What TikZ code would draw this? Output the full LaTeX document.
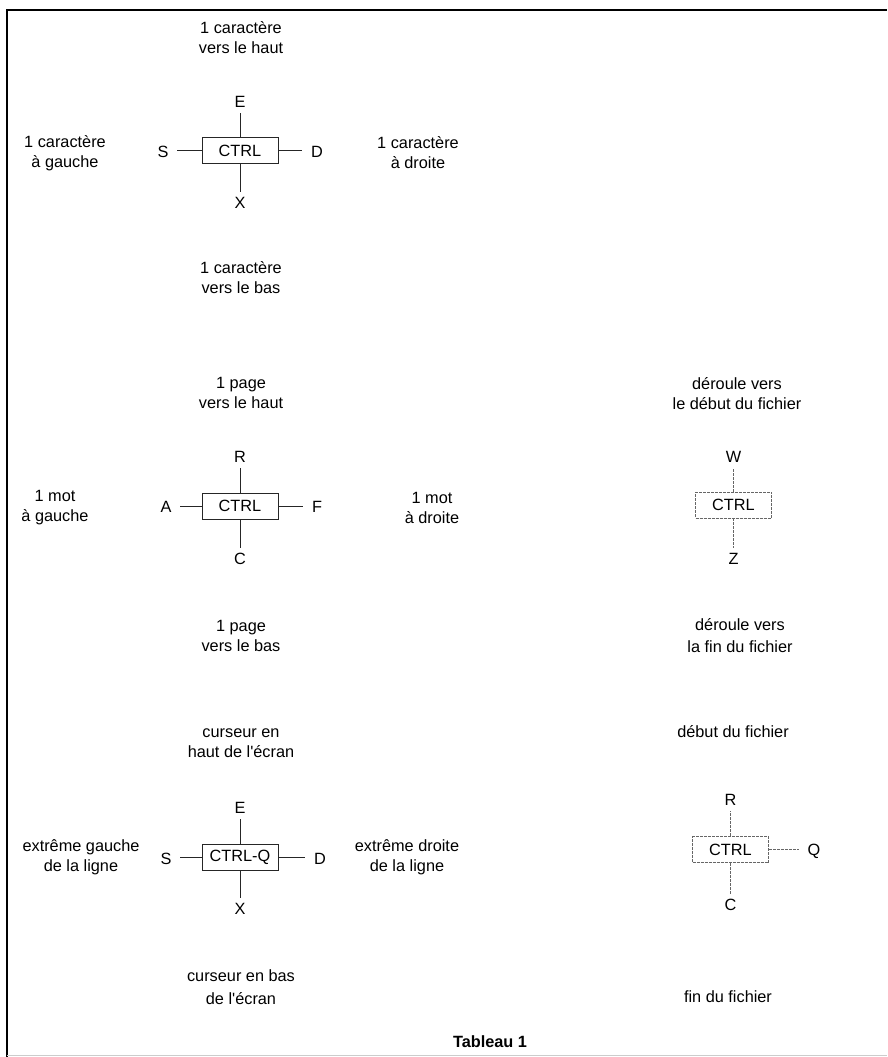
\documentclass[tikz,border=0pt]{standalone}
\usepackage{fontspec}
\setmainfont{Liberation Sans}
\begin{document}
\begin{tikzpicture}[x=1pt,y=-1pt,
  txt/.style={font=\fontsize{16.3}{20}\selectfont, align=center, inner sep=0pt},
  key/.style={font=\fontsize{16.3}{20}\selectfont, inner xsep=8.5pt, inner ysep=5.5pt},
  ctrlbox/.style={draw=black!85, line width=0.6pt, minimum width=76pt, minimum height=26pt, inner sep=0pt, font=\fontsize{16.3}{20}\selectfont},
  ctrlboxlight/.style={ctrlbox, draw=black!60, dash pattern=on 3pt off 1pt},
  link/.style={draw=black!85, line width=0.6pt},
  linklight/.style={draw=black!60, line width=0.6pt, dash pattern=on 3pt off 1pt}]
\fill[white] (0,0) rectangle (887,1057);
\useasboundingbox (0,0) rectangle (887,1057);
\draw[line width=2.4pt] (7,1057) -- (7,10) -- (887,10);
\draw[black!20, line width=1pt] (7,1055) -- (887,1055);

% ---- block 1
\node[ctrlbox] (b1) at (240,150.5) {CTRL};
\node[key] (E1) at (240,102) {E};
\node[key] (X1) at (240,203) {X};
\node[key] (S1) at (163,152) {S};
\node[key] (D1) at (317,152) {D};
\draw[link] (b1.north) -- (E1.south);
\draw[link] (b1.south) -- (X1.north);
\draw[link] (b1.west) -- (S1.east |- b1.west);
\draw[link] (b1.east) -- (D1.west |- b1.east);
\node[txt] (t1) at (241,38) {1 caractère\\vers le haut};
\node[txt] (t2) at (65,153) {1 caractère\\à gauche};
\node[txt] (t3) at (418,153) {1 caractère\\à droite};
\node[txt] (t4) at (241,278) {1 caractère\\vers le bas};

% ---- block 2
\node[ctrlbox] (b2) at (240,506) {CTRL};
\node[key] (R2) at (240,457) {R};
\node[key] (C2) at (240,559) {C};
\node[key] (A2) at (166,507) {A};
\node[key] (F2) at (317,507) {F};
\draw[link] (b2.north) -- (R2.south);
\draw[link] (b2.south) -- (C2.north);
\draw[link] (b2.west) -- (A2.east |- b2.west);
\draw[link] (b2.east) -- (F2.west |- b2.east);
\node[txt] (t5) at (241,393) {1 page\\vers le haut};
\node[txt] (t6) at (55,508) {1 mot\\à gauche};
\node[txt] (t7) at (432,508) {1 mot\\à droite};
\node[txt] (t8) at (241,635.5) {1 page\\vers le bas};

% ---- block 3
\node[ctrlbox] (b3) at (240,857.5) {CTRL-Q};
\node[key] (E3) at (240,808) {E};
\node[key] (X3) at (240,909) {X};
\node[key] (S3) at (166,859) {S};
\node[key] (D3) at (320,859) {D};
\draw[link] (b3.north) -- (E3.south);
\draw[link] (b3.south) -- (X3.north);
\draw[link] (b3.west) -- (S3.east |- b3.west);
\draw[link] (b3.east) -- (D3.west |- b3.east);
\node[txt] (t11) at (241,743.5) {curseur en\\haut de l\textquotesingle écran};
\node[txt] (t12) at (81,857) {extrême gauche\\de la ligne};
\node[txt] (t13) at (407,857) {extrême droite\\de la ligne};
\node[txt] (t14) at (241,987.5) {curseur en bas\\[3pt]de l\textquotesingle écran};

% ---- right block 2
\node[ctrlboxlight] (b4) at (733.5,505) {CTRL};
\node[key] (W4) at (733.5,457) {W};
\node[key] (Z4) at (733.5,559) {Z};
\draw[linklight] (b4.north) -- (W4.south);
\draw[linklight] (b4.south) -- (Z4.north);
\node[txt] (t9) at (737,393.5) {déroule vers\\le début du fichier};
\node[txt] (t10) at (740,636) {déroule vers\\[2pt]la fin du fichier};

% ---- right block 3
\node[ctrlboxlight] (b5) at (730.5,849.5) {CTRL};
\node[key] (R5) at (730.5,800) {R};
\node[key] (C5) at (730.5,905) {C};
\node[key] (Q5) at (814,851) {Q};
\draw[linklight] (b5.north) -- (R5.south);
\draw[linklight] (b5.south) -- (C5.north);
\draw[linklight] (b5.east) -- (Q5.west |- b5.east);
\node[txt] (t15) at (733,732) {début du fichier};
\node[txt] (t16) at (728,997) {fin du fichier};

\node[txt, font=\fontsize{16.3}{20}\selectfont\bfseries] (title) at (490,1042) {Tableau 1};
\end{tikzpicture}
\end{document}
